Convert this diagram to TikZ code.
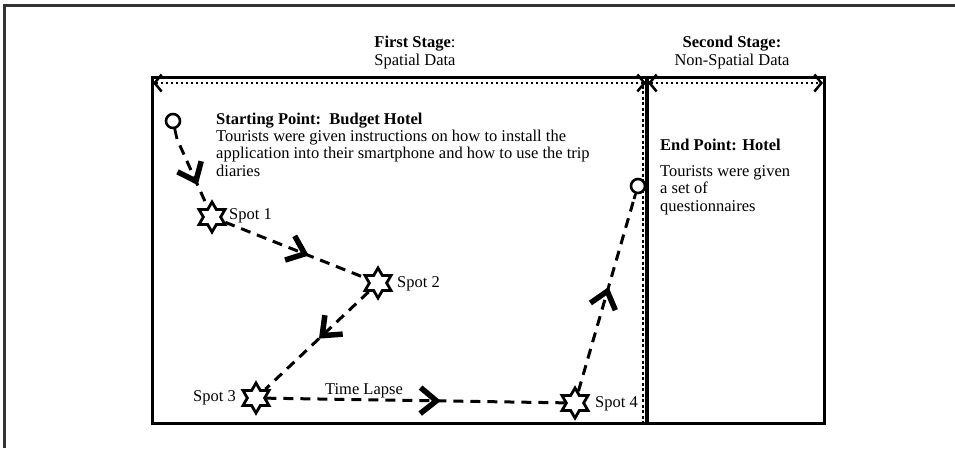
\documentclass[tikz,border=0pt]{standalone}
\usepackage{fontspec}
\setmainfont{Liberation Serif}
\usetikzlibrary{shapes.geometric,arrows.meta,decorations.markings}
\begin{document}
\begin{tikzpicture}[x=1pt,y=-1pt,
  txt/.style={font=\fontsize{16.5}{17.5}\selectfont, inner sep=0pt},
  spotstar/.style={star, star points=6, star point ratio=1.73, minimum size=30pt, inner sep=0pt, draw, line width=2.8pt, fill=white},
  pin/.style={circle, draw, line width=2.6pt, fill=white, minimum size=14pt, inner sep=0pt},
  stem/.style={line width=2.8pt},
  route/.style={line width=3pt, dash pattern=on 10pt off 7pt},
  chev/.style={postaction={decorate}, decoration={markings, mark=at position #1 with {\draw[solid, line width=5.5pt, miter limit=10] (-16pt,13pt) -- (0pt,0pt) -- (-16pt,-13pt);}}},
  boxline/.style={line width=3pt},
  span/.style={line width=2.5pt, dash pattern=on 2.5pt off 2.5pt, <->, >={Straight Barb[length=7pt,width=17pt]}},
]
\useasboundingbox (0,0) rectangle (955,448);
\fill[white] (0,0) rectangle (955,448);
% outer frame
\draw[line width=3pt, black!80] (4,448) -- (4,5) -- (955,5);
% box
\coordinate (tl) at (152,77);
\coordinate (br) at (824,423);
\coordinate (dt) at (647,77);
\coordinate (db) at (647,423);
\coordinate (dott) at (643,80);
\coordinate (dotb) at (643,423);
\draw[line width=2pt, dash pattern=on 3pt off 2.5pt] (dott) -- (dotb);
% dimension arrows
\coordinate (al) at (153,83);
\coordinate (am) at (646,83);
\coordinate (am2) at (648,83);
\coordinate (ar) at (823,83);
\draw[span] (al) -- (am);
\draw[span] (am2) -- (ar);
% headers
\node[txt, anchor=base, align=center] (h1) at (415,65) {\textbf{First Stage}:\\Spatial Data};
\node[txt, anchor=base, align=center] (h2) at (732,65) {\textbf{Second Stage:}\\Non-Spatial Data};
% nodes
\node[pin] (start) at (173,121) {};
\coordinate (startstem) at (177,139);
\node[spotstar] (spot1) at (212,217) {};
\node[spotstar] (spot2) at (378,283) {};
\node[spotstar] (spot3) at (256,398) {};
\node[spotstar] (spot4) at (575,403) {};
\node[pin] (end) at (638,186) {};
\coordinate (endstem) at (634,199);
% divider solid line
\draw[line width=3.5pt] (dt) -- (db);
\draw[boxline] (tl) rectangle (br);
% stems
\draw[stem] (start) -- (startstem);
\draw[stem] (end) -- (endstem);
% route
\draw[route, dash phase=10pt, chev=0.62] (startstem) -- (spot1);
\draw[route, chev=0.57] (spot1) -- (spot2);
\draw[route, chev=0.45] (spot2) -- (spot3);
\draw[route, chev=0.57] (spot3) -- (spot4);
\draw[route, chev=0.52] (spot4) -- (endstem);
% labels
\node[txt, anchor=west] (l1) at (229,216) {Spot 1};
\node[txt, anchor=west] (l2) at (397,284) {Spot 2};
\node[txt, anchor=east] (l3) at (236,398) {Spot 3};
\node[txt, anchor=west] (l4) at (595,404) {Spot 4};
\node[txt, anchor=base] (tlapse) at (364,394) {Time Lapse};
% texts
\node[txt, anchor=base west] (st) at (216,124) {\textbf{Starting Point:\ \ Budget Hotel}};
\node[txt, anchor=base west, align=left] (sb) at (216,176) {Tourists were given instructions on how to install the\\application into their smartphone and how to use the trip\\diaries};
\node[txt, anchor=base west] (et) at (660,150) {\textbf{End Point: Hotel}};
\node[txt, anchor=base west, align=left] (eb) at (660,211) {Tourists were given\\a set of\\questionnaires};
\end{tikzpicture}
\end{document}
